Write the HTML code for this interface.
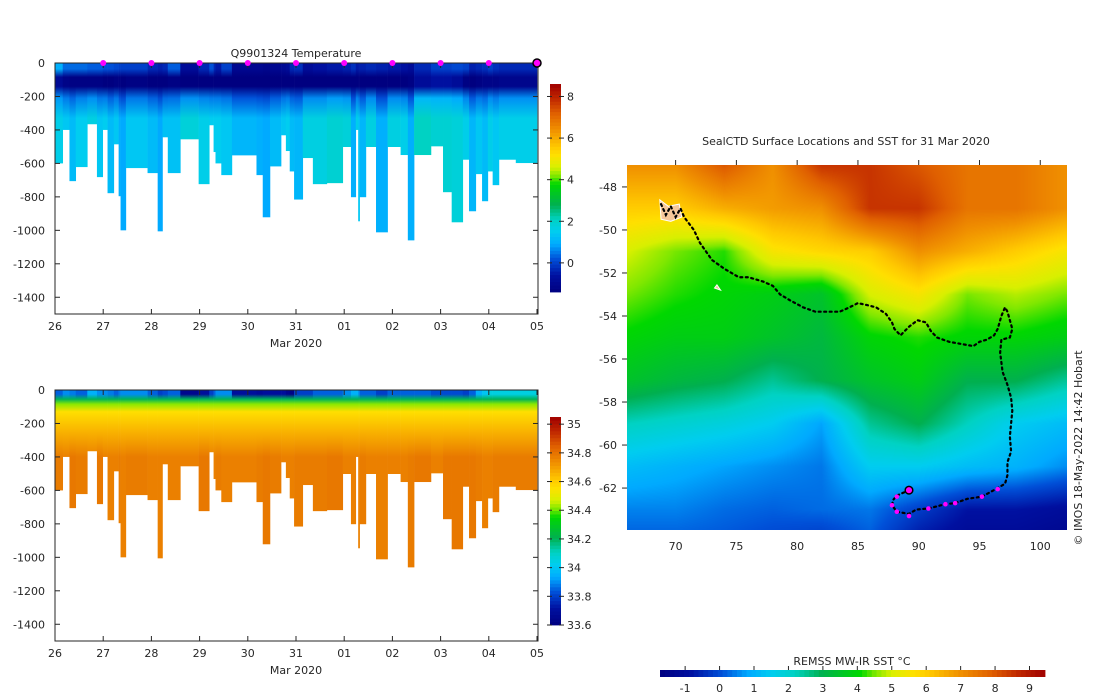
<!DOCTYPE html>
<html><head><meta charset="utf-8">
<style>
html,body{margin:0;padding:0;background:#fff;}
body{width:1100px;height:696px;overflow:hidden;position:relative;font-family:"DejaVu Sans","Liberation Sans",sans-serif;}
svg text{font-family:"DejaVu Sans","Liberation Sans",sans-serif;font-size:11px;fill:#262626;}
#sstcanvas{position:absolute;left:627px;top:165px;}
</style></head>
<body>
<canvas id="sstcanvas" width="440" height="365"></canvas>
<svg id="main" width="1100" height="696" style="position:absolute;left:0;top:0">
<defs id="defs"></defs>
</svg>
<script>
// ---------- profile data ----------
const profStart=[0,0.16,0.30,0.43,0.67,0.87,0.99,1.09,1.22,1.32,1.36,1.47,1.92,2.13,2.23,2.34,2.60,2.98,3.20,3.29,3.33,3.45,3.67,4.18,4.31,4.46,4.69,4.79,4.87,4.96,5.14,5.35,5.64,5.97,6.14,6.24,6.29,6.32,6.45,6.66,6.90,7.17,7.32,7.45,7.80,8.05,8.23,8.46,8.59,8.73,8.86,8.98,9.08,9.21,9.56];
const profMaxDepth=[600,400,706,622,366,682,400,778,486,796,1000,628,658,1006,444,658,456,724,372,532,600,670,552,670,922,618,432,526,648,816,568,724,718,502,802,400,946,802,502,1012,502,550,1060,550,498,772,952,578,886,664,826,648,730,578,598];
const tempSurf=[1.0,0.4,0.4,0.4,0.3,0.3,0.2,0.2,0.1,0.0,0.0,0.0,-0.3,-0.4,-0.3,0.3,-0.8,-0.3,0.2,-0.3,-0.5,0.0,-1.0,-1.0,-1.1,-1.0,-0.9,-0.8,-0.3,-0.2,-0.8,-0.6,-0.5,-0.4,-0.2,-0.5,-0.5,-0.4,-0.3,-0.4,-0.5,-0.6,-0.8,-0.3,0.0,0.0,0.1,0.0,-0.4,-0.3,-0.2,0.0,-0.2,-0.3,-0.3];
const tempMin=[-0.9,-1.2,-1.3,-1.3,-1.3,-1.3,-1.4,-1.4,-1.3,-1.3,-1.4,-1.3,-1.4,-1.4,-1.4,-1.3,-1.5,-1.4,-1.4,-1.4,-1.4,-1.4,-1.5,-1.5,-1.5,-1.5,-1.4,-1.4,-1.4,-1.4,-1.4,-1.4,-1.4,-1.4,-1.5,-1.4,-1.4,-1.4,-1.4,-1.5,-1.4,-1.4,-1.3,-0.8,-0.6,-0.6,-0.8,-1.3,-1.4,-1.3,-1.2,-1.2,-1.2,-1.1,-1.1];
const tempDeep=[1.6,1.4,1.2,1.5,1.7,1.4,1.5,1.2,1.4,1.0,0.9,1.4,1.2,0.9,1.3,1.3,1.8,1.6,1.5,1.5,1.5,1.4,1.1,1.0,0.9,1.2,1.4,1.5,1.2,1.1,1.7,1.7,1.9,1.8,1.0,1.6,1.4,1.1,1.7,1.0,1.7,1.6,1.0,2.1,1.9,1.9,1.8,1.6,1.1,1.4,1.2,1.6,1.4,1.6,1.6];
const salSurf=[33.85,33.9,33.88,33.85,33.95,33.9,33.9,33.88,33.85,33.88,33.9,33.9,33.85,33.8,33.82,33.85,33.65,33.7,33.8,33.85,33.9,33.9,33.7,33.68,33.7,33.7,33.7,33.65,33.62,33.8,33.8,33.85,33.85,33.9,33.95,33.95,33.9,33.85,33.85,33.8,33.85,33.85,33.85,33.85,33.82,33.82,33.82,33.8,33.85,33.95,34.0,34.05,34.05,34.05,34.05];
const salDeep=[34.78,34.77,34.79,34.78,34.77,34.79,34.77,34.77,34.77,34.78,34.77,34.78,34.77,34.77,34.77,34.77,34.77,34.79,34.77,34.77,34.78,34.77,34.77,34.78,34.79,34.78,34.77,34.77,34.77,34.78,34.78,34.78,34.79,34.77,34.77,34.77,34.77,34.78,34.77,34.77,34.77,34.77,34.78,34.79,34.77,34.79,34.79,34.79,34.79,34.78,34.77,34.77,34.78,34.78,34.78];
const dayLabels=["26","27","28","29","30","31","01","02","03","04","05"];
const depthTicks=[0,-200,-400,-600,-800,-1000,-1200,-1400];
const markerDays=[1,2,3,4,5,6,7,8,9];
const tempCbTicks=[0,2,4,6,8];
const salCbTicks=["33.6","33.8","34","34.2","34.4","34.6","34.8","35"];
// ---------- map data ----------
const gridLons=[66,70,74,78,82,86,90,94,98,102];
const gridLats=[-47,-49,-51,-53,-55,-57,-59,-61,-63,-65];
const sstGrid=[
[7.0,7.0,8.0,7.0,8.5,8.5,8.0,7.5,7.5,7.0],
[6.0,6.0,6.5,6.8,7.0,8.5,8.5,7.5,7.5,7.0],
[5.0,4.5,4.2,5.5,5.8,6.0,7.0,6.5,6.0,5.5],
[4.5,4.2,4.0,3.8,3.5,5.0,5.5,4.5,4.8,4.5],
[4.0,3.8,3.8,3.5,3.2,4.0,4.2,4.0,4.0,3.8],
[3.5,3.2,3.0,2.5,3.0,3.5,3.8,3.0,3.0,2.5],
[2.2,2.0,1.8,1.5,0.8,2.5,3.0,2.2,1.5,1.2],
[1.2,1.0,0.8,0.6,0.4,1.5,1.5,1.2,1.0,0.6],
[0.5,0.5,0.3,0.2,0.3,0.4,-0.2,-0.8,-0.8,-1.0],
[0.0,0.0,0.0,-0.2,-0.5,0.0,-1.0,-1.3,-1.3,-1.5]];
const trackLon=[68.8,69.2,69.6,70.0,70.4,70.7,71.5,72.0,73.0,74.0,75.2,76.0,77.2,78.0,78.6,79.5,80.5,81.5,82.5,83.5,84.3,85.0,85.8,86.5,87.3,87.8,88.0,88.5,89.2,89.9,90.6,91.0,91.5,92.5,93.5,94.5,95.0,95.6,96.2,96.5,96.8,97.1,97.3,97.7,97.5,96.8,96.7,96.9,97.3,97.6,97.7,97.6,97.5,97.6,97.3,97.3,97.1,96.5,95.2,94.0,93.0,92.2,91.5,90.8,89.8,89.2,88.2,87.8,87.9,88.2,89.2];
const trackLat=[-48.8,-49.3,-48.9,-49.4,-49.0,-49.4,-50.0,-50.6,-51.4,-51.8,-52.2,-52.2,-52.4,-52.6,-53.0,-53.3,-53.6,-53.8,-53.8,-53.8,-53.6,-53.4,-53.5,-53.6,-53.9,-54.3,-54.6,-54.9,-54.5,-54.2,-54.3,-54.7,-55.0,-55.2,-55.3,-55.4,-55.2,-55.1,-54.9,-54.6,-54.0,-53.6,-53.8,-54.6,-55.0,-55.1,-55.7,-56.6,-57.2,-57.8,-58.4,-59.0,-59.6,-60.3,-60.8,-61.4,-61.8,-62.0,-62.4,-62.5,-62.7,-62.75,-62.85,-62.95,-63.0,-63.2,-63.1,-62.8,-62.55,-62.35,-62.1];
const magentaLon=[96.5,95.2,93.0,92.2,90.8,89.2,88.2,87.8,88.2];
const magentaLat=[-62.05,-62.4,-62.7,-62.75,-62.95,-63.3,-63.1,-62.8,-62.4];
const lonTicks=[70,75,80,85,90,95,100];
const latTicks=[-48,-50,-52,-54,-56,-58,-60,-62];
const sstCbTicks=[-1,0,1,2,3,4,5,6,7,8,9];

// ---------- colormap ----------
const cmStops=[[0,[0,0,128]],[0.08,[0,16,160]],[0.16,[0,80,216]],[0.23,[0,170,255]],[0.29,[0,205,240]],[0.35,[0,210,195]],[0.42,[0,176,80]],[0.52,[0,216,0]],[0.56,[128,232,0]],[0.60,[216,240,0]],[0.66,[255,224,0]],[0.70,[255,200,0]],[0.78,[240,144,0]],[0.86,[224,96,0]],[0.93,[192,40,0]],[1,[160,0,0]]];
function cmapRGB(f){f=Math.max(0,Math.min(1,f));for(let i=1;i<cmStops.length;i++){if(f<=cmStops[i][0]){const a=cmStops[i-1],b=cmStops[i];const t=(f-a[0])/(b[0]-a[0]);return a[1].map((v,k)=>Math.round(v+(b[1][k]-v)*t));}}return cmStops[cmStops.length-1][1];}
function cmap(f){const c=cmapRGB(f);return `rgb(${c[0]},${c[1]},${c[2]})`;}

const NS="http://www.w3.org/2000/svg";
const svg=document.getElementById('main');
const defs=document.getElementById('defs');
function mk(tag,attrs,parent){const e=document.createElementNS(NS,tag);for(const k in attrs)e.setAttribute(k,attrs[k]);(parent||svg).appendChild(e);return e;}
function txt(x,y,s,anchor,parent,extra){const t=mk('text',Object.assign({x:x,y:y,'text-anchor':anchor||'middle'},extra||{}),parent);t.textContent=s;return t;}

// ---------- section panels ----------
const X0=55,X1=537,BOXR=538;
function xDay(d){return X0+(X1-X0)*d/10;}
function drawSection(name,top,surfArr,minArr,deepArr,vmin,vmax,kind,cbTop,cbBot,cbTicks){
  const bot=top+251;
  function yD(d){return top+d*(bot-top)/1500;}
  const g=mk('g',{});
  
  
  for(let i=0;i<profStart.length;i++){
    const d0=profStart[i],d1=(i+1<profStart.length?profStart[i+1]:10);
    const gid=name+'g'+i;
    const lg=mk('linearGradient',{id:gid,gradientUnits:'userSpaceOnUse',x1:0,y1:yD(0),x2:0,y2:yD(1500)},defs);
    let stops;
    if(kind==='T'){
      const s=surfArr[i],m=minArr[i],dp=deepArr[i];
      stops=[[0,s],[35,s],[85,m],[140,m],[210,(m+dp*2)/3],[330,dp],[1500,dp]];
    }else{
      const s=surfArr[i],dp=deepArr[i];
      stops=[[0,s],[25,s],[55,34.2],[85,34.42],[130,34.56],[250,34.66],[400,dp],[1500,dp]];
    }
    stops.forEach(st=>mk('stop',{offset:st[0]/1500,'stop-color':cmap((st[1]-vmin)/(vmax-vmin))},lg));
    const r=mk('rect',{x:xDay(d0),y:yD(0),width:Math.max(0.8,xDay(d1)-xDay(d0)+0.3),height:yD(profMaxDepth[i])-yD(0),fill:`url(#${gid})`},g);
    
    
  }
  const ax=mk('rect',{x:X0,y:top,width:BOXR-X0,height:bot-top,fill:'none',stroke:'#262626','stroke-width':1},g);
  
  
  depthTicks.forEach(v=>{const y=yD(-v);mk('line',{x1:X0,x2:X0+5,y1:y,y2:y,stroke:'#262626'},g);mk('line',{x1:BOXR,x2:BOXR-5,y1:y,y2:y,stroke:'#262626'},g);
    const t=txt(X0-10,y+4,String(v),'end',g);});
  dayLabels.forEach((s,i)=>{const x=xDay(i);mk('line',{x1:x,x2:x,y1:bot,y2:bot-5,stroke:'#262626'},g);mk('line',{x1:x,x2:x,y1:top,y2:top+5,stroke:'#262626'},g);
    const t=txt(x,bot+16,s,'middle',g);});
  const xl=txt(296,bot+33,'Mar 2020','middle',g);
  
  
  const cb=mk('g',{},g);
  
  
  const n=60;
  for(let k=0;k<n;k++){const f=k/n;mk('rect',{x:550,y:cbBot-(k+1)*(cbBot-cbTop)/n,width:11,height:(cbBot-cbTop)/n+0.4,fill:cmap(f+0.5/n)},cb);}
  cbTicks.forEach(tv=>{const v=parseFloat(tv);const y=cbBot-(v-vmin)/(vmax-vmin)*(cbBot-cbTop);mk('line',{x1:547,x2:552,y1:y,y2:y,stroke:'#262626'},cb);mk('line',{x1:559,x2:564,y1:y,y2:y,stroke:'#262626'},cb);txt(567,y+4,String(tv),'start',cb);});
}
drawSection('temperature',63,tempSurf,tempMin,tempDeep,-1.4,8.6,'T',84,292,tempCbTicks);
drawSection('salinity',390,salSurf,null,salDeep,33.6,35.05,'S',417,625,salCbTicks);
const t1=txt(296,57,'Q9901324  Temperature','middle');


markerDays.forEach(d=>{const c=mk('circle',{cx:xDay(d),cy:63,r:3,fill:'#ff00ff'});});
const lastM=mk('circle',{cx:xDay(10),cy:63,r:4,fill:'#ff00ff',stroke:'#000','stroke-width':1.5});



// ---------- map ----------
const MX0=627,MX1=1067,MY0=165,MY1=530,LON0=66,LON1=102.2,LAT0=-46.98,LAT1=-63.95;
function xLon(l){return MX0+(l-LON0)/(LON1-LON0)*(MX1-MX0);}
function yLat(l){return MY0+(l-LAT0)/(LAT1-LAT0)*(MY1-MY0);}
(function(){
  const cv=document.getElementById('sstcanvas');const ctx=cv.getContext('2d');
  const W=cv.width,H=cv.height;const img=ctx.createImageData(W,H);
  for(let py=0;py<H;py++){const lat=LAT0+(py+0.5)/H*(LAT1-LAT0);
    let fi=(gridLats[0]-lat)/2;fi=Math.max(0,Math.min(gridLats.length-1.001,fi));const i0=Math.floor(fi),ti=fi-i0;
    for(let px=0;px<W;px++){const lon=LON0+(px+0.5)/W*(LON1-LON0);
      let fj=(lon-gridLons[0])/4;fj=Math.max(0,Math.min(gridLons.length-1.001,fj));const j0=Math.floor(fj),tj=fj-j0;
      const v=(sstGrid[i0][j0]*(1-tj)+sstGrid[i0][j0+1]*tj)*(1-ti)+(sstGrid[i0+1][j0]*(1-tj)+sstGrid[i0+1][j0+1]*tj)*ti;
      const c=cmapRGB((v+1.73)/11.18);const o=(py*W+px)*4;img.data[o]=c[0];img.data[o+1]=c[1];img.data[o+2]=c[2];img.data[o+3]=255;}}
  ctx.putImageData(img,0,0);
})();
const mg=mk('g',{});


const mt=txt(846,145,'SealCTD Surface Locations and SST for 31 Mar 2020','middle',mg);


lonTicks.forEach(l=>{const x=xLon(l);mk('line',{x1:x,x2:x,y1:MY0,y2:MY0-5,stroke:'#262626'},mg);const t=txt(x,550,String(l),'middle',mg);});
latTicks.forEach(l=>{const y=yLat(l);mk('line',{x1:MX0,x2:MX0-5,y1:y,y2:y,stroke:'#262626'},mg);const t=txt(617,y+4,String(l),'end',mg);});
const sp=mk('polygon',{points:[[68.7,-48.6],[69.4,-48.9],[70.3,-48.8],[70.5,-49.4],[69.6,-49.6],[68.8,-49.5]].map(p=>xLon(p[0])+','+yLat(p[1])).join(' '),fill:'#f5c79a',stroke:'#fff','stroke-width':1},mg);


const sm=mk('polygon',{points:[[73.2,-52.7],[73.7,-52.8],[73.4,-52.55]].map(p=>xLon(p[0])+','+yLat(p[1])).join(' '),fill:'#f5c79a',stroke:'#fff','stroke-width':1},mg);


const tr=mk('polyline',{points:trackLon.map((l,i)=>xLon(l)+','+yLat(trackLat[i])).join(' '),fill:'none',stroke:'#000','stroke-width':2.2,'stroke-dasharray':'2 3.5','stroke-linecap':'round'},mg);


magentaLon.forEach((l,i)=>{const c=mk('circle',{cx:xLon(l),cy:yLat(magentaLat[i]),r:2.3,fill:'#ff00ff'},mg);});
const lastLoc=mk('circle',{cx:xLon(trackLon[trackLon.length-1]),cy:yLat(trackLat[trackLat.length-1]),r:3.8,fill:'#ff00ff',stroke:'#000','stroke-width':1.5},mg);


const cr=txt(0,0,'© IMOS 18-May-2022 14:42 Hobart','middle',mg,{transform:'translate(1082,448) rotate(-90)','font-size':'10'});


const scb=mk('g',{});


const CB0=660,CB1=1045,CBMIN=-1.73,CBMAX=9.45;
for(let k=0;k<80;k++){mk('rect',{x:CB0+k*(CB1-CB0)/80,y:670,width:(CB1-CB0)/80+0.4,height:7,fill:cmap((k+0.5)/80)},scb);}
sstCbTicks.forEach(v=>{const x=CB0+(v-CBMIN)/(CBMAX-CBMIN)*(CB1-CB0);mk('line',{x1:x,x2:x,y1:666,y2:670,stroke:'#262626'},scb);txt(x,692,String(v),'middle',scb);});
const cbt=txt(852,665,'REMSS MW-IR SST °C','middle',scb);


</script>
</body></html>
